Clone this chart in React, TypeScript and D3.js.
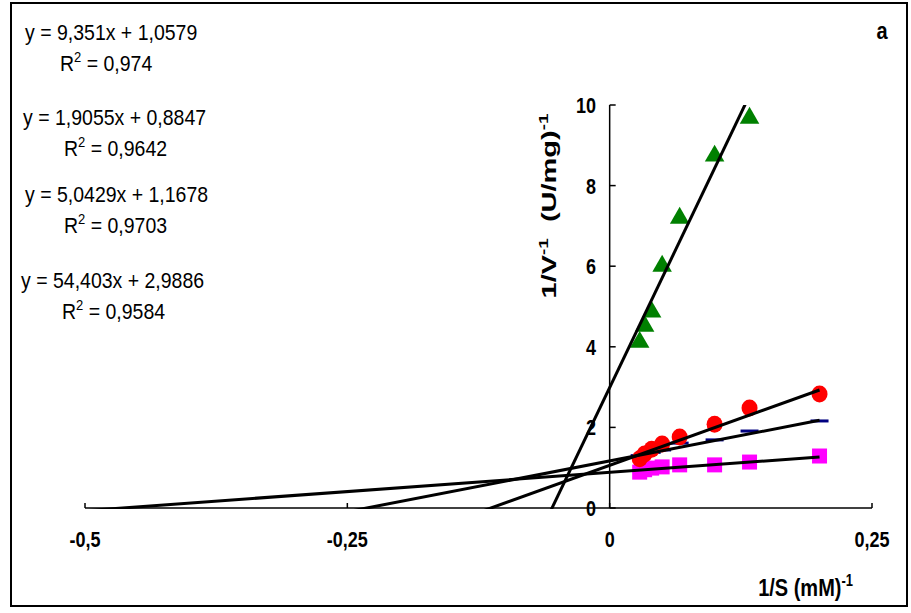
import React from "react";
import * as d3 from "d3";

// 1/S values (mM^-1)
const sInv = [0.0286, 0.0333, 0.04, 0.05, 0.0667, 0.1, 0.1333, 0.2];

// 1/V values per series
const greenVals = [4.14, 4.54, 4.89, 6.03, 7.22, 8.76, 9.7];
const redVals = [1.22, 1.34, 1.46, 1.59, 1.76, 2.08, 2.48, 2.83];
const blueVals = [1.3, 1.34, 1.38, 1.44, 1.61, 1.69, 1.91, 2.16];
const magentaVals = [0.89, 0.95, 0.99, 1.02, 1.07, 1.07, 1.14, 1.29];

// trendline equations, in the order they are listed at the left
const eqNames = ["red", "magenta", "blue", "green"];
const slopes = [9.351, 1.9055, 5.0429, 54.403];
const intercepts = [1.0579, 0.8847, 1.1678, 2.9886];
const r2Labels = ["0,974", "0,9642", "0,9703", "0,9584"];

const xTicks = [-0.5, -0.25, 0, 0.25];
const yTicks = [0, 2, 4, 6, 8, 10];

const W = 911;
const H = 613;

const fmtNum = (v: number) => String(v).replace(".", ",");
const FONT = "Liberation Sans, Arial, sans-serif";

export default function App() {
  const x = d3.scaleLinear().domain([-0.5, 0.25]).range([85, 872]);
  const y = d3.scaleLinear().domain([0, 10]).range([508, 105]);

  const trend = (i: number) =>
    d3
      .line<number>()
      .x((d) => x(d))
      .y((d) => y(slopes[i] * d + intercepts[i]))([-0.5, 0.2]);

  const tri = d3.symbol().type(d3.symbolTriangle).size(165)();
  const eqTop = [40, 125, 202, 288];
  const eqLeft = [25, 23, 25, 21];
  const r2Left = [60, 64, 64, 62];

  return (
    <div style={{ position: "fixed", left: 0, top: 0 }}>
      <svg width={W} height={H} style={{ display: "block", background: "#fff" }}>
        <defs>
          <clipPath id="plot">
            <rect x={x(-0.5)} y={y(10)} width={x(0.25) - x(-0.5)} height={y(0) - y(10) + 1} />
          </clipPath>
        </defs>
        <rect x={11} y={3} width={896} height={603} fill="#fff" stroke="#000" strokeWidth={2} />

        {/* axes */}
        <g stroke="#000" strokeWidth={1.5} fill="none">
          <line x1={x(-0.5)} x2={x(0.25)} y1={y(0)} y2={y(0)} />
          {xTicks.map((t) => (
            <line key={t} x1={x(t)} x2={x(t)} y1={y(0)} y2={y(0) - 5} />
          ))}
          <line x1={x(0)} x2={x(0)} y1={y(0)} y2={y(10)} />
          {yTicks.map((t) => (
            <line key={t} x1={x(0)} x2={x(0) + 6} y1={y(t)} y2={y(t)} />
          ))}
        </g>
        <g fontFamily={FONT} fontWeight="bold" fontSize={18} fill="#000">
          {xTicks.map((t) => (
            <text key={t} transform={`translate(${x(t)},547) scale(1,1.25)`} textAnchor="middle">
              {fmtNum(t)}
            </text>
          ))}
          {yTicks.map((t) => (
            <text key={t} transform={`translate(596,${y(t) + 8}) scale(1,1.25)`} textAnchor="end">
              {t}
            </text>
          ))}
        </g>

        {/* markers */}
        <g fill="#FF00FF">
          {magentaVals.map((v, i) => (
            <rect key={i} x={x(sInv[i]) - 7.5} y={y(v) - 7.5} width={15} height={15} />
          ))}
        </g>
        <g fill="#000080">
          {blueVals.map((v, i) => (
            <rect key={i} x={x(sInv[i]) - 9} y={y(v) - 1.5} width={18} height={3} />
          ))}
        </g>
        <g fill="#FF0000">
          {redVals.map((v, i) => (
            <ellipse key={i} cx={x(sInv[i])} cy={y(v)} rx={8} ry={8.5} />
          ))}
        </g>
        <g fill="#008000">
          {greenVals.map((v, i) => (
            <path key={i} d={tri as string} transform={`translate(${x(sInv[i])},${y(v) + 1})`} />
          ))}
        </g>

        {/* trendlines */}
        <g clipPath="url(#plot)" stroke="#000" strokeWidth={3} fill="none">
          {eqNames.map((n, i) => (
            <path key={n} d={trend(i) as string} />
          ))}
        </g>

        {/* equations */}
        <g fontFamily={FONT} fontSize={19.5} fill="#000">
          {eqNames.map((n, i) => (
            <g key={n}>
              <text transform={`translate(${eqLeft[i]},${eqTop[i]}) scale(1,1.1)`}>
                {`y = ${fmtNum(slopes[i])}x + ${fmtNum(intercepts[i])}`}
              </text>
              <text transform={`translate(${r2Left[i]},${eqTop[i] + 31}) scale(1,1.1)`}>
                R<tspan dy={-8} fontSize={13}>2</tspan>
                <tspan dy={8}>{` = ${r2Labels[i]}`}</tspan>
              </text>
            </g>
          ))}
        </g>

        {/* titles */}
        <g fontFamily={FONT} fontWeight="bold" fill="#000">
          <text transform="translate(882,39) scale(1,1.15)" fontSize={20} textAnchor="middle">a</text>
          <text transform="translate(853,596) scale(1,1.2)" fontSize={20} textAnchor="end">
            1/S (mM)<tspan dy={-8} fontSize={13}>-1</tspan>
          </text>
          <text transform="translate(556,206) rotate(-90) scale(1.45,1)" fontSize={20} textAnchor="middle">
            1/V<tspan dy={-8} fontSize={13}>-1</tspan>
            <tspan dy={8}>{"\u00a0 (U/mg)"}</tspan>
            <tspan dy={-8} fontSize={13}>-1</tspan>
          </text>
        </g>
      </svg>
    </div>
  );
}
